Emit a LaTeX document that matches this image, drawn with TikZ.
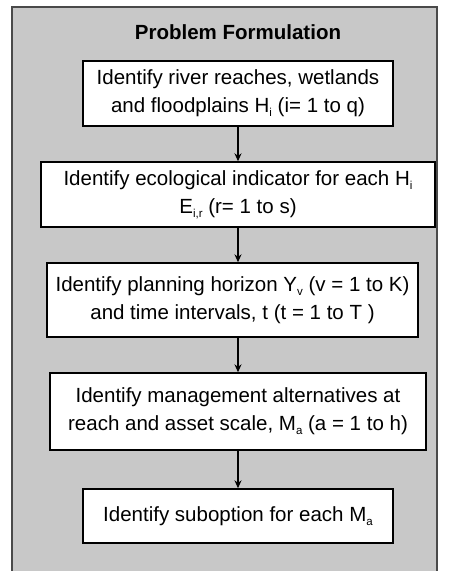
\documentclass[tikz,border=0pt]{standalone}
\usepackage{fontspec}
\setmainfont{Liberation Sans}
\usetikzlibrary{arrows.meta}
\definecolor{panelgray}{HTML}{C8C8C8}
\definecolor{edgegray}{HTML}{4A4A4A}
\newcommand{\sbs}[1]{\raisebox{-0.35ex}{\fontsize{11.5}{12}\selectfont #1}}
\tikzset{
  stepbox/.style={draw=black, line width=1.4pt, fill=white, align=center, inner sep=0pt,
    font=\fontsize{20.5}{28}\selectfont},
  flowarrow/.style={draw=black, line width=1.3pt, -{Stealth[length=8pt,width=7pt]}}
}
\begin{document}
\begin{tikzpicture}[x=1pt,y=-1pt]
\useasboundingbox (0,0) rectangle (454,571);
\fill[white] (0,0) rectangle (454,571);
\filldraw[fill=panelgray, draw=edgegray, line width=1.5pt] (12,7) rectangle (437,575);
\node[font=\bfseries\fontsize{20.5}{24}\selectfont] (title) at (238,32) {Problem Formulation};
\node[stepbox, minimum width=310pt, minimum height=65pt] (b1) at (238,93.5)
  {Identify river reaches, wetlands\\and floodplains H\sbs{i} (i= 1 to q)};
\node[stepbox, minimum width=394pt, minimum height=65pt] (b2) at (238,194.5)
  {Identify ecological indicator for each H\sbs{i}\\E\sbs{i,r} (r= 1 to s)};
\node[stepbox, minimum width=371pt, minimum height=74pt] (b3) at (232.5,300)
  {Identify planning horizon Y\sbs{v} (v = 1 to K)\\and time intervals, t (t = 1 to T )};
\node[stepbox, minimum width=376pt, minimum height=77pt] (b4) at (238,411.5)
  {Identify management alternatives at\\reach and asset scale, M\sbs{a} (a = 1 to h)};
\node[stepbox, minimum width=310pt, minimum height=54pt] (b5) at (238,516)
  {Identify suboption for each M\sbs{a}};
\draw[flowarrow] (b1.south) -- (b2.north);
\draw[flowarrow] (b2.south) -- (b2.south |- b3.north);
\draw[flowarrow] (b2.south |- b3.south) -- (b4.north);
\draw[flowarrow] (b4.south) -- (b5.north);
\end{tikzpicture}
\end{document}
